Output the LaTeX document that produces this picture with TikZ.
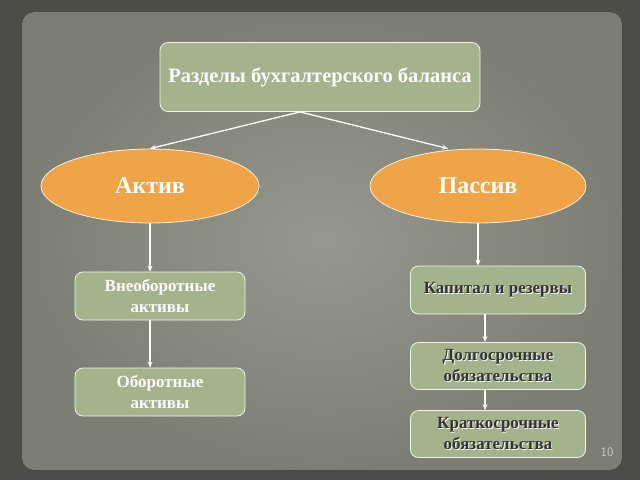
\documentclass[tikz,border=0pt]{standalone}
\usepackage{fontspec}
\setmainfont{Liberation Serif}
\usetikzlibrary{shapes.geometric,arrows.meta}
\definecolor{frameclr}{HTML}{4D4D48}
\definecolor{boardclr}{HTML}{8A8C80}
\definecolor{boxclr}{HTML}{A3B38C}
\definecolor{ovalclr}{HTML}{F0A448}
\definecolor{numclr}{HTML}{C8C8C0}
\newcommand{\shl}[1]{\leavevmode\rlap{\kern0.8pt\raisebox{-0.8pt}{\color{white}#1}}{\color{black!80}#1}}
\tikzset{
  pnode/.style={draw=white!85!boxclr,line width=0.8pt,fill=boxclr,rounded corners=8pt,
    minimum width=170pt,minimum height=48pt,align=center,font=\bfseries\fontsize{17}{21}\selectfont,text=white},
  oval/.style={ellipse,draw=white!80!ovalclr,line width=0.8pt,fill=ovalclr,
    minimum width=218pt,minimum height=74pt,font=\bfseries\fontsize{24}{28}\selectfont,text=white},
  link/.style={draw=white,line width=1.3pt,-{Stealth[length=6pt,width=5pt]}}
}
\begin{document}
\begin{tikzpicture}[x=1pt,y=-1pt]
  \useasboundingbox (0,0) rectangle (640,480);
  \fill[frameclr] (0,0) rectangle (640,480);
  \fill[inner color=boardclr!90!white,outer color=boardclr!90!black,rounded corners=12pt] (22,12) rectangle (622,470);
  % top
  \node[pnode,minimum width=320pt,minimum height=69pt,font=\bfseries\fontsize{20.5}{24}\selectfont] (top) at (320,77) {Разделы бухгалтерского баланса};
  \node[oval] (aktiv) at (150,186) {Актив};
  \node[oval,minimum width=216pt] (passiv) at (478,186) {Пассив};
  % left column
  \node[pnode] (vneob) at (160,296) {Внеоборотные\\активы};
  \node[pnode] (obor) at (160,392) {Оборотные\\активы};
  % right column
  \node[pnode,minimum width=175pt] (kapital) at (498,290) {\shl{Капитал и резервы}};
  \node[pnode,minimum width=175pt,minimum height=47pt] (dolgo) at (498,366) {\shl{Долгосрочные}\\\shl{обязательства}};
  \node[pnode,minimum width=175pt,minimum height=47pt] (kratko) at (498,434) {\shl{Краткосрочные}\\\shl{обязательства}};
  \node[text=numclr,font=\sffamily\fontsize{13}{15}\selectfont] (num) at (607,452) {10};
  % connectors
  \coordinate (tbot) at ([xshift=-20pt]top.south);
  \draw[link] (tbot) -- (aktiv.north);
  \draw[link] (tbot) -- ([xshift=-30pt]passiv.north);
  \draw[link] (aktiv.south) -- ([xshift=-10pt]vneob.north);
  \draw[link] ([xshift=-10pt]vneob.south) -- ([xshift=-10pt]obor.north);
  \draw[link] (passiv.south) -- (passiv.south |- kapital.north);
  \draw[link] ([xshift=-13pt]kapital.south) -- ([xshift=-13pt]dolgo.north);
  \draw[link] ([xshift=-13pt]dolgo.south) -- ([xshift=-13pt]kratko.north);
\end{tikzpicture}
\end{document}
